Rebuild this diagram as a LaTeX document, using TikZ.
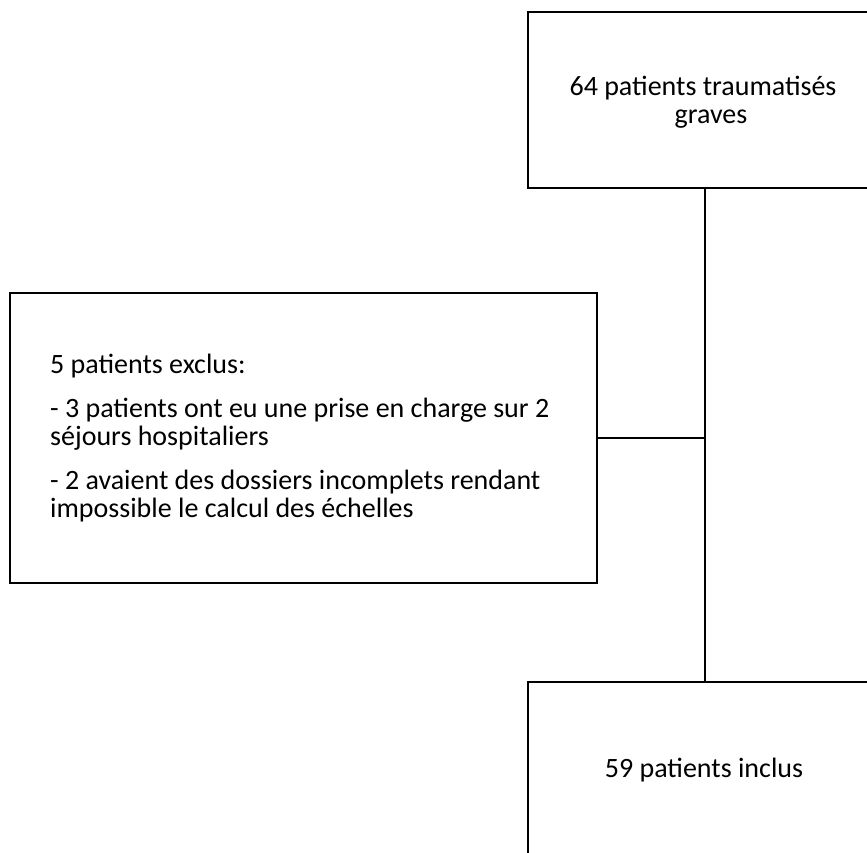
\documentclass[tikz,border=0pt]{standalone}
\usepackage{fontspec}
\setmainfont{Carlito}
\begin{document}
\begin{tikzpicture}[x=1pt,y=-1pt,
  box/.style={draw=black,line width=2.5pt,rectangle,inner sep=0pt},
  lbl/.style={font=\fontsize{28}{28}\selectfont,inner sep=0pt},
  link/.style={draw=black,line width=2.5pt}]
\useasboundingbox (0,0) rectangle (867,852);
\clip (0,0) rectangle (867,852);
\node[box,minimum width=354pt,minimum height=176pt] (top) at (705,100) {};
\node[lbl,align=center] (toptxt) at (711,102) {64 patients traumatisés\hspace*{16pt}\\graves};
\node[box,minimum width=587pt,minimum height=290pt] (excl) at (303.5,438) {};
\node[lbl,align=left,anchor=west] (excltxt) at (50,438) {5 patients exclus:\\[16pt]- 3 patients ont eu une prise en charge sur 2\\séjours hospitaliers\\[16pt]- 2 avaient des dossiers incomplets rendant\\impossible le calcul des échelles};
\node[box,minimum width=354pt,minimum height=176pt] (bot) at (705,770) {};
\node[lbl] (bottxt) at (704,770) {59 patients inclus};
\draw[link] (top.south) -- (bot.north);
\draw[link] (excl.east) -- (excl.east -| top.south);
\end{tikzpicture}
\end{document}
